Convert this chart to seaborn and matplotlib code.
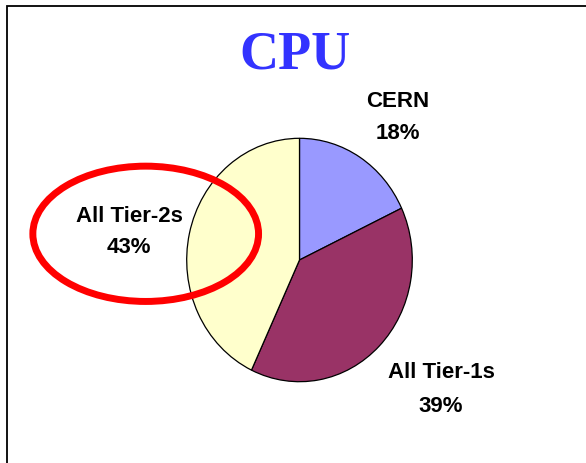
import matplotlib.pyplot as plt
import seaborn as sns
from matplotlib.patches import Ellipse

# data
labels = ["CERN", "All Tier-1s", "All Tier-2s"]
shares = [18, 39, 43]
colors = ["#9999FF", "#993366", "#FFFFCC"]

sns.set_theme(style="white")
plt.rcParams["font.family"] = ["Liberation Sans", "DejaVu Sans"]

W, H = 586, 463
fig = plt.figure(figsize=(W / 100, H / 100), dpi=100)
fig.patch.set_facecolor("white")

# pie axes: slightly taller than wide, like the slide
cx, cy, rx, ry = 299.5, 260, 112.8, 121.7
ax_pie = fig.add_axes([(cx - rx) / W, (H - cy - ry) / H, 2 * rx / W, 2 * ry / H])
ax_pie.pie(shares, colors=colors, startangle=90, counterclock=False,
           wedgeprops={"edgecolor": "black", "linewidth": 0.9})
ax_pie.set_xlim(-1, 1)
ax_pie.set_ylim(-1, 1)
ax_pie.set_aspect("auto")
ax_pie.axis("off")

# overlay axes in pixel coords for frame, title, labels and the red ellipse
ax = fig.add_axes([0, 0, 1, 1])
ax.patch.set_alpha(0)
ax.set_xlim(0, W)
ax.set_ylim(H, 0)
ax.axis("off")

# slide frame (only left and top visible)
ax.plot([7, 7, W + 5], [H + 5, 6, 6], color="black", lw=1.3, solid_joinstyle="miter")

ax.text(295, 68.5, "CPU", ha="center", va="baseline", fontsize=39, fontweight="bold",
        family="Liberation Serif", color="#3333FF")

label_pos = {
    "CERN": (398, 107, 139),
    "All Tier-1s": (441, 378, 412),
    "All Tier-2s": (129, 221.5, 253),
}
for lab, val in zip(labels, shares):
    x, y1, y2 = label_pos[lab]
    ax.text(x, y1, lab, ha="center", va="baseline", fontsize=16, fontweight="bold", color="black")
    ax.text(x, y2, f"{val}%", ha="center", va="baseline", fontsize=16, fontweight="bold", color="black")

ax.add_patch(Ellipse((145.7, 233.8), 225.7, 135.3, fill=False, edgecolor="#FF0000", lw=5))

fig.savefig("out.png", dpi=100)
